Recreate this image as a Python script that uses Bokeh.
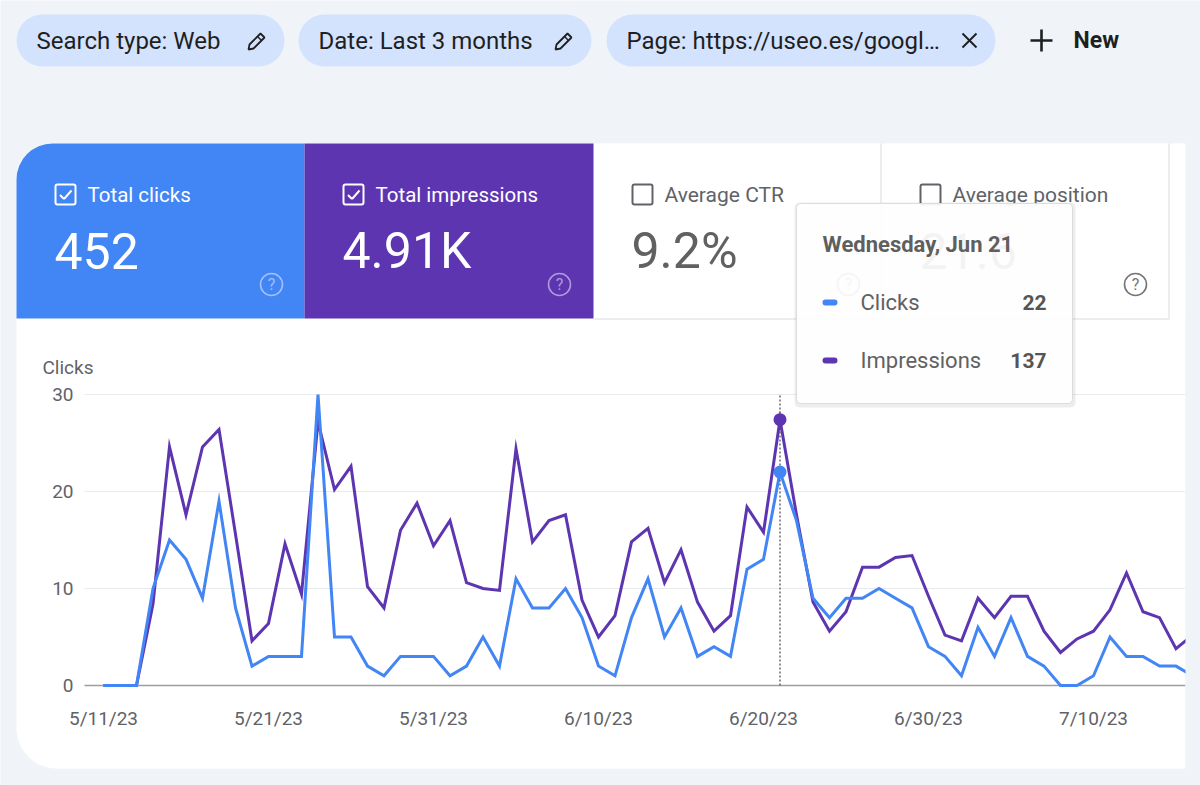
import pandas as pd
from bokeh.plotting import figure
from bokeh.models import (Range1d, FixedTicker, CustomJSTickFormatter, Label,
                          BoxAnnotation, PolyAnnotation, LinearAxis)
from bokeh.embed import file_html
from bokeh.resources import INLINE

# ---------------- data ----------------
start_date = "2023-05-11"
dates = pd.date_range(start_date, periods=67, freq="D")
clicks = [0, 0, 0, 10, 15, 13, 9, 19, 8, 2,
          3, 3, 3, 30, 5, 5, 2, 1, 3, 3,
          3, 1, 2, 5, 2, 11, 8, 8, 10, 7,
          2, 1, 7, 11, 5, 8, 3, 4, 3, 12,
          13, 22, 17, 9, 7, 9, 9, 10, 9, 8,
          4, 3, 1, 6, 3, 7, 3, 2, 0, 0,
          1, 5, 3, 3, 2, 2, 1]
impressions = [0, 0, 0, 42, 123, 88, 123, 132, 78, 23,
               32, 73, 47, 136, 101, 113, 51, 40, 80, 94,
               72, 85, 53, 50, 49, 122, 74, 85, 88, 44,
               25, 36, 74, 81, 53, 70, 43, 28, 36, 92,
               79, 137, 88, 43, 28, 38, 61, 61, 66, 67,
               46, 26, 23, 45, 35, 46, 46, 28, 17, 24,
               28, 39, 58, 38, 35, 19, 26]
tick_dates = ["2023-05-11", "2023-05-21", "2023-05-31", "2023-06-10",
              "2023-06-20", "2023-06-30", "2023-07-10"]
y_ticks = [0, 10, 20, 30]
hover_index = 41
chips = ["Search type: Web", "Date: Last 3 months", "Page: https://useo.es/googl\u2026"]
card_titles = ["Total clicks", "Total impressions", "Average CTR", "Average position"]
card_values = ["452", "4.91K", "9.2%", "21.6"]
tooltip_title = "Wednesday, Jun 21"
series_names = ["Clicks", "Impressions"]

# ---------------- layout constants (page pixels) ----------------
W, H = 1200, 785
CL, CR = 84, 1185                       # chart plotting area, left/right
X0_PAGE, Y0_PAGE, Y30_PAGE = 103, 685, 394
PX_DAY = 16.5
PX_UNIT = (Y0_PAGE - Y30_PAGE) / 30.0
IMP_SCALE = 5.0

DAY = 86400000.0
ms = [float(v) for v in (dates.astype("int64") // 10**6)]
t0 = ms[0]
x_start = t0 - X0_PAGE / PX_DAY * DAY
x_end = t0 + (W - X0_PAGE) / PX_DAY * DAY
y_start = -(H - Y0_PAGE) / PX_UNIT
y_end = Y0_PAGE / PX_UNIT
chart_x0 = t0 - (X0_PAGE - CL) / PX_DAY * DAY
chart_x1 = t0 + (CR - X0_PAGE) / PX_DAY * DAY

BG = "#f0f4f9"
BLUE = "#4285f4"
PURPLE = "#5e35b1"
DARK = "#1f1f1f"
GRAY = "#5f6368"
LINE = "#dadce0"
FONT = "Roboto"

p = figure(width=W, height=H, x_range=Range1d(0, W), y_range=Range1d(H, 0),
           x_axis_location=None, y_axis_location=None,
           output_backend="svg", toolbar_location=None, min_border=0)
p.extra_x_ranges = {"date": Range1d(x_start, x_end)}
p.extra_y_ranges = {"clicks": Range1d(y_start, y_end),
                    "impr": Range1d(y_start * IMP_SCALE, y_end * IMP_SCALE)}
p.border_fill_color = BG
p.background_fill_color = BG
p.outline_line_color = None
p.grid.visible = False

# axes placed at the chart's own position
yaxis = LinearAxis(y_range_name="clicks", fixed_location=CL, ticker=FixedTicker(ticks=y_ticks))
xaxis = LinearAxis(x_range_name="date", fixed_location=Y0_PAGE,
                   ticker=FixedTicker(ticks=[float(pd.Timestamp(d).value // 10**6) for d in tick_dates]),
                   formatter=CustomJSTickFormatter(code="""
const d = new Date(tick);
return (d.getUTCMonth()+1) + '/' + d.getUTCDate() + '/' + String(d.getUTCFullYear()).slice(2);
"""))
for ax in (xaxis, yaxis):
    ax.axis_line_color = None
    ax.major_tick_line_color = None
    ax.minor_tick_line_color = None
    ax.major_tick_out = 0
    ax.major_tick_in = 0
    ax.major_label_text_font = FONT
    ax.major_label_text_font_size = "19px"
    ax.major_label_text_color = GRAY
xaxis.major_label_standoff = 21
yaxis.major_label_standoff = 11
p.add_layout(yaxis, "left")
p.add_layout(xaxis, "below")

# ---------------- helpers ----------------
def box(l, t, r, b, fill=None, radius=0, line=None, lw=1.0, alpha=1.0, line_alpha=1.0, level="image"):
    p.add_layout(BoxAnnotation(left=l, right=r, top=t, bottom=b,
                               fill_color=fill if fill else "white",
                               fill_alpha=alpha if fill else 0.0,
                               line_color=line, line_width=lw, line_alpha=line_alpha,
                               border_radius=radius, level=level))

def label(x, y, text, size, color, align="left", style="normal", alpha=1.0, level="annotation", font=FONT):
    p.add_layout(Label(x=x, y=y, text=text,
                       text_font=font, text_font_size=f"{size}px", text_color=color,
                       text_align=align, text_baseline="middle",
                       text_font_style=style, text_alpha=alpha, level=level))

def seg(xs, ys, color, lw, alpha=1.0, level="annotation"):
    p.add_layout(PolyAnnotation(xs=xs, ys=ys, fill_alpha=0.0, line_color=color,
                                line_width=lw, line_alpha=alpha, level=level))

def pencil(cx, cy, color=DARK):
    seg([cx - 8, cx - 7, cx + 4, cx + 8, cx - 3], [cy + 9, cy + 4, cy - 7, cy - 3, cy + 8], color, 1.8)
    seg([cx + 1, cx + 5], [cy - 4, cy], color, 1.5)

def checkbox(x, y, color, checked):
    box(x, y, x + 20, y + 20, None, radius=2, line=color, lw=2, level="annotation")
    if checked:
        seg([x + 4.5, x + 8.5], [y + 10.5, y + 14.5], color, 2)
        seg([x + 8.5, x + 16], [y + 14.5, y + 6], color, 2)

def help_icon(cx, cy, color, alpha):
    box(cx - 11, cy - 11, cx + 11, cy + 11, None, radius=11, line=color, lw=1.6,
        line_alpha=alpha, level="annotation")
    label(cx, cy, "?", 16, color, align="center", alpha=alpha)

# ---------------- filter chips ----------------
chip_boxes = [(16, 284), (298, 591), (606, 995)]
for (l, r), txt in zip(chip_boxes, chips):
    box(l, 14, r, 66, "#d3e3fd", radius=26)
    label(l + 20, 40, txt, 24, DARK)
pencil(256, 40)
pencil(563, 40)
seg([962, 976], [33, 47], DARK, 2)
seg([962, 976], [47, 33], DARK, 2)
seg([1030, 1052], [40, 40], DARK, 2.6)
seg([1041, 1041], [29, 51], DARK, 2.6)
label(1073, 40, "New", 23, DARK, style="bold")

# ---------------- cards ----------------
box(16, 143, 1185, 768, "white", radius=(36, 0, 0, 40))
box(16, 143, 304, 318, BLUE, radius=(36, 0, 0, 0))
box(304, 143, 593, 318, PURPLE)
box(593, 318, 1169, 319, LINE)
box(880, 143, 881, 318, LINE)
box(1168, 143, 1169, 318, LINE)

card_x = [55, 343, 632, 920]
value_colors = ["white", "white", "#616161", "#616161"]
title_colors = ["white", "white", GRAY, GRAY]
for i in range(4):
    cx = card_x[i]
    checkbox(cx, 184, "white" if i < 2 else "#5f6368", i < 2)
    label(cx + 32, 194, card_titles[i], 21 if i >= 2 else 20.5, title_colors[i])
    label(cx - 1, 250, card_values[i], 50, value_colors[i])
help_icon(271, 284, "white", 0.5)
help_icon(559, 284, "white", 0.5)
help_icon(848, 284, "#757575", 1.0)
help_icon(1135, 284, "#757575", 1.0)

label(42, 367, "Clicks", 19, GRAY)

# ---------------- chart ----------------
grid_ticks = y_ticks[1:]
p.segment(x0=[chart_x0] * len(grid_ticks), x1=[chart_x1] * len(grid_ticks), y0=grid_ticks, y1=grid_ticks,
          x_range_name="date", y_range_name="clicks", line_color="#e8eaed", line_width=1.2, level="underlay")
p.segment(x0=[chart_x0], x1=[chart_x1], y0=[0], y1=[0], x_range_name="date", y_range_name="clicks",
          line_color="#9e9e9e", line_width=1.6, level="underlay")
p.line(ms, impressions, x_range_name="date", y_range_name="impr",
       line_color=PURPLE, line_width=3, line_join="miter")
p.line(ms, clicks, x_range_name="date", y_range_name="clicks",
       line_color=BLUE, line_width=3, line_join="miter")
p.segment(x0=[ms[hover_index]], x1=[ms[hover_index]], y0=[0], y1=[y_ticks[-1]],
          x_range_name="date", y_range_name="clicks", line_color="#555555",
          line_width=1.3, line_dash="2 2")
p.scatter([ms[hover_index]], [impressions[hover_index]], x_range_name="date", y_range_name="impr",
          size=13, fill_color=PURPLE, line_color=None)
p.scatter([ms[hover_index]], [clicks[hover_index]], x_range_name="date", y_range_name="clicks",
          size=13, fill_color=BLUE, line_color=None)

# page strip to the right of the chart card (the series run on past the card's edge)
box(CR, 318, W, 768, BG, level="overlay")

# ---------------- tooltip ----------------
box(794, 202, 1075, 407, "#000000", radius=5, alpha=0.07, level="overlay")
box(796, 203, 1072, 403, "white", radius=4, line="#dcdcdc", lw=1, alpha=0.93, level="overlay")
label(822, 244, tooltip_title, 22, "#5f5f5f", style="bold", level="overlay")
box(822, 299, 837, 305, BLUE, radius=3, level="overlay")
box(822, 357, 837, 363, PURPLE, radius=3, level="overlay")
label(860, 302, series_names[0], 22, "#616161", level="overlay")
label(860, 360, series_names[1], 22, "#616161", level="overlay")
label(1046, 302, str(clicks[hover_index]), 21, "#555555", align="right", style="bold", level="overlay")
label(1046, 360, str(impressions[hover_index]), 21, "#555555", align="right", style="bold", level="overlay")

open("out.html", "w").write(file_html(p, INLINE))
